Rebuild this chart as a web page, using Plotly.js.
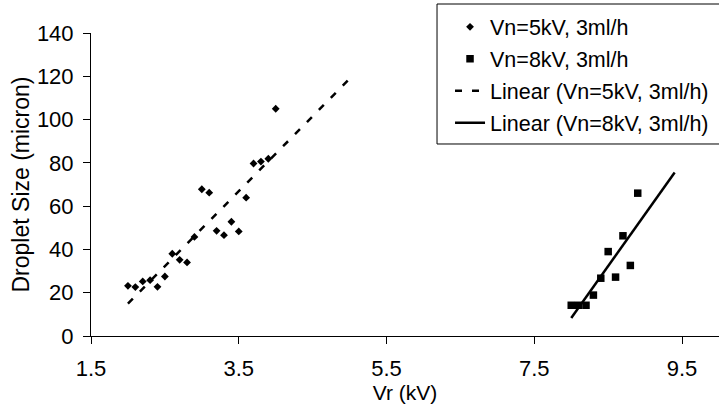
<!DOCTYPE html>
<html>
<head>
<meta charset="utf-8">
<script src="https://cdn.plot.ly/plotly-3.0.1.min.js"></script>
<style>html,body{margin:0;padding:0;background:#fff;}#chart{width:719px;height:406px;}</style>
</head>
<body>
<div id="chart"></div>
<script>
// Series 1: Vn=5kV, 3ml/h
const vr5 = [2.0, 2.1, 2.2, 2.3, 2.4, 2.5, 2.6, 2.7, 2.8, 2.9, 3.0, 3.1, 3.2, 3.3, 3.4, 3.5, 3.6, 3.7, 3.8, 3.9, 4.0];
const size5 = [23.2, 22.6, 25.2, 25.8, 22.7, 27.5, 38.0, 35.2, 34.0, 45.8, 67.8, 66.2, 48.6, 46.6, 52.8, 48.3, 63.9, 79.7, 80.6, 81.9, 105.0];
// Series 2: Vn=8kV, 3ml/h
const vr8 = [8.0, 8.1, 8.2, 8.3, 8.4, 8.5, 8.6, 8.7, 8.8, 8.9];
const size8 = [14.2, 14.2, 14.2, 18.9, 26.7, 39.0, 27.2, 46.3, 32.6, 66.0];
// Trendline forward forecast (as in the spreadsheet trendline options)
const forecast5 = 1.0;
const forecast8 = 0.5;
const names = ["Vn=5kV, 3ml/h", "Vn=8kV, 3ml/h", "Linear (Vn=5kV, 3ml/h)", "Linear (Vn=8kV, 3ml/h)"];
const xTicks = [1.5, 3.5, 5.5, 7.5, 9.5];
const yTicks = [0, 20, 40, 60, 80, 100, 120, 140];

function linFit(xs, ys) {
  const n = xs.length;
  const mx = xs.reduce((a, b) => a + b, 0) / n;
  const my = ys.reduce((a, b) => a + b, 0) / n;
  let sxy = 0, sxx = 0;
  for (let i = 0; i < n; i++) { sxy += (xs[i] - mx) * (ys[i] - my); sxx += (xs[i] - mx) ** 2; }
  const m = sxy / sxx;
  return { m: m, b: my - m * mx };
}
function trend(xs, ys, fwd) {
  const f = linFit(xs, ys);
  const x0 = Math.min(...xs), x1 = Math.max(...xs) + fwd;
  return { x: [x0, x1], y: [f.m * x0 + f.b, f.m * x1 + f.b] };
}
const t5 = trend(vr5, size5, forecast5);
const t8 = trend(vr8, size8, forecast8);

const FONT = "Liberation Sans, Arial, sans-serif";

const data = [
  { x: vr5, y: size5, type: "scatter", mode: "markers", name: names[0], legendgroup: "a",
    marker: { symbol: "diamond", size: 6, color: "#000" } },
  { x: vr8, y: size8, type: "scatter", mode: "markers", name: names[1], legendgroup: "b",
    marker: { symbol: "square", size: 7.5, color: "#000" } },
  { x: t5.x, y: t5.y, type: "scatter", mode: "lines", name: names[2], legendgroup: "c",
    line: { color: "#000", width: 2.5, dash: "7px,10px" } },
  { x: t8.x, y: t8.y, type: "scatter", mode: "lines", name: names[3], legendgroup: "d",
    line: { color: "#000", width: 2.5 } }
];

const layout = {
  width: 719, height: 406,
  margin: { l: 91, r: 0, t: 33, b: 70, pad: 0 },
  paper_bgcolor: "#fff", plot_bgcolor: "#fff",
  font: { family: FONT, color: "#000", size: 21 },
  showlegend: true,
  xaxis: {
    range: [1.5, 10], tickvals: xTicks, ticktext: xTicks.map(v => v.toFixed(1)),
    showgrid: false, zeroline: false, showline: true, linecolor: "#000", linewidth: 1,
    ticks: "outside", ticklen: 7, tickcolor: "#000", tickwidth: 1,
    ticklabelstandoff: 6,
    tickfont: { family: FONT, size: 22, color: "#000" },
    title: { text: "Vr (kV)", font: { family: FONT, size: 21, color: "#000" }, standoff: 0 },
    automargin: false
  },
  yaxis: {
    range: [0, 140], tickvals: yTicks,
    showgrid: false, zeroline: false, showline: true, linecolor: "#000", linewidth: 1,
    ticks: "outside", ticklen: 7, tickcolor: "#000", tickwidth: 1,
    ticklabelstandoff: 5,
    tickfont: { family: FONT, size: 22, color: "#000" },
    title: { text: "Droplet Size (micron)", font: { family: FONT, size: 23, color: "#000" }, standoff: 0 },
    automargin: false
  },
  legend: {
    x: 0.5717, xanchor: "left", y: 1.088, yanchor: "top",
    bgcolor: "rgba(0,0,0,0)", borderwidth: 0,
    traceorder: "grouped", tracegroupgap: 1,
    font: { family: FONT, size: 21.5, color: "#000" }
  },
  shapes: [
    { type: "rect", xref: "paper", yref: "paper", x0: 0.551, x1: 1.02, y0: 0.6337, y1: 1.0957,
      line: { color: "#000", width: 1 }, fillcolor: "rgba(0,0,0,0)", layer: "above" }
  ]
};

Plotly.newPlot("chart", data, layout, { displayModeBar: false, staticPlot: true });
</script>
</body>
</html>
